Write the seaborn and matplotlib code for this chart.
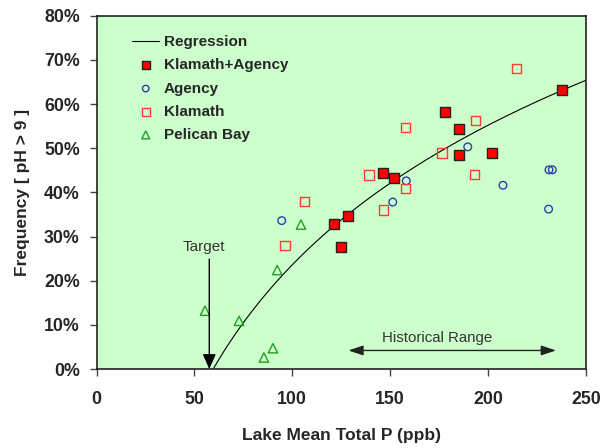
import numpy as np
import pandas as pd
import matplotlib
matplotlib.use("Agg")
import matplotlib.pyplot as plt
import seaborn as sns
from matplotlib.ticker import FuncFormatter

# ---- data ----
ka_x = [121.1, 125.0, 128.6, 146.2, 151.9, 178.1, 185.3, 185.3, 202.0, 237.7]
ka_y = [32.8, 27.7, 34.7, 44.4, 43.2, 58.2, 54.4, 48.5, 48.8, 63.1]

ag_x = [94.6, 151.3, 158.2, 189.6, 207.6, 230.9, 231.1, 232.8]
ag_y = [33.6, 37.8, 42.6, 50.3, 41.6, 36.2, 45.1, 45.1]

kl_x = [96.3, 106.1, 139.2, 146.5, 157.7, 157.7, 176.5, 193.2, 193.7, 214.4]
kl_y = [27.9, 37.9, 43.9, 36.0, 54.7, 40.8, 48.9, 44.1, 56.3, 68.0]

pb_x = [55.4, 72.8, 85.5, 90.1, 92.3, 104.4]
pb_y = [13.2, 10.9, 2.6, 4.7, 22.4, 32.7]

# regression: y = a * ln(x / x0)
reg_a = 45.6
reg_x0 = 59.6

x_ticks = [0, 50, 100, 150, 200, 250]
y_ticks = [0, 10, 20, 30, 40, 50, 60, 70, 80]

target_x = 57.6
hist_range = (128.6, 234.7)

# ---- style ----
sns.set_style("ticks")
plt.rcParams["font.family"] = ["Liberation Sans", "DejaVu Sans"]

fig = plt.figure(figsize=(6.02, 4.48), dpi=100)
ax = fig.add_axes([96.5 / 602, 1 - 369 / 448, (586 - 96.5) / 602, (369 - 15.7) / 448])
ax.set_facecolor("#CCFFCC")

xr = np.linspace(reg_x0, 250, 200)
yr = reg_a * np.log(xr / reg_x0)
sns.lineplot(x=xr, y=yr, color="black", lw=0.8, ax=ax, label="Regression")

sns.scatterplot(x=ka_x, y=ka_y, marker="s", s=55, color="#FF0000",
                edgecolor="#222222", linewidth=1.0, ax=ax, label="Klamath+Agency", zorder=4)
sns.scatterplot(x=ag_x, y=ag_y, marker="o", s=30, facecolor="none",
                edgecolor="#2A3FA8", linewidth=1.0, ax=ax, label="Agency", zorder=3)
sns.scatterplot(x=kl_x, y=kl_y, marker="s", s=45, facecolor="none",
                edgecolor="#FF3B30", linewidth=1.0, ax=ax, label="Klamath", zorder=3)
sns.scatterplot(x=pb_x, y=pb_y, marker="^", s=45, facecolor="none",
                edgecolor="#1FA01F", linewidth=1.0, ax=ax, label="Pelican Bay", zorder=3)

ax.set_xlim(0, 250)
ax.set_ylim(0, 80)
ax.set_xticks(x_ticks)
ax.set_yticks(y_ticks)
ax.yaxis.set_major_formatter(FuncFormatter(lambda v, p: f"{v:.0f}%"))
for lab in ax.get_xticklabels() + ax.get_yticklabels():
    lab.set_fontweight("bold")
    lab.set_fontsize(12.8)
ax.tick_params(axis="x", length=5, width=1, color="#444444", pad=11)
ax.tick_params(axis="y", length=5, width=1, color="#444444", pad=7)
for sp in ax.spines.values():
    sp.set_visible(True)
    sp.set_color("#222222")
    sp.set_linewidth(1.2)

ax.set_xlabel("Lake Mean Total P (ppb)", fontsize=12.5, fontweight="bold", labelpad=14)
ax.set_ylabel("Frequency [ pH > 9 ]", fontsize=12.5, fontweight="bold", labelpad=10)

# annotations
ax.annotate("", xy=(target_x, 0), xytext=(target_x, 24.9),
            arrowprops=dict(arrowstyle="-|>,head_length=0.9,head_width=0.4",
                            color="black", lw=1, mutation_scale=10, shrinkA=0, shrinkB=0))
ax.text(55, 27.7, "Target", ha="center", va="center", fontsize=11, color="#333333")

ax.annotate("", xy=(hist_range[0], 4.2), xytext=(hist_range[1], 4.2),
            arrowprops=dict(arrowstyle="<|-|>,head_length=0.9,head_width=0.3",
                            color="#222222", lw=1, mutation_scale=10, shrinkA=0, shrinkB=0))
ax.text(174.2, 7.1, "Historical Range", ha="center", va="center", fontsize=10.8, color="#333333")

leg = ax.legend(loc="upper left", bbox_to_anchor=(0.06, 0.962), frameon=False,
                prop={"weight": "bold", "size": 11}, labelspacing=0.6,
                handlelength=1.8, handletextpad=0.3, borderaxespad=0,
                markerscale=0.85)

fig.savefig("out.png", dpi=100)
